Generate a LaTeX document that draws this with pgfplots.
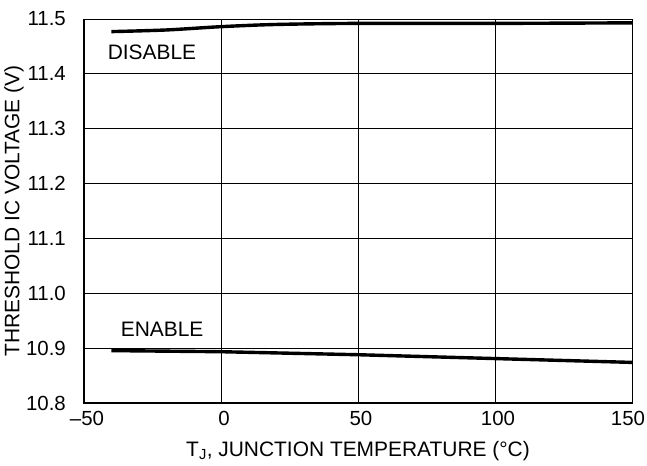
\documentclass[border=0pt]{standalone}
\usepackage{pgfplots}
\pgfplotsset{compat=1.18}
\usepackage{fontspec}
\setmainfont{Liberation Sans}
\usetikzlibrary{calc}
\begin{document}
\fontsize{21}{25}\selectfont
\begin{tikzpicture}
\begin{axis}[
  scale only axis,
  width=548bp, height=384bp,
  xmin=-50, xmax=150, ymin=10.8, ymax=11.5,
  xtick={-50,0,50,100,150},
  xticklabels={–50,0,50,100,\hspace*{-14bp}150},
  ytick={10.8,10.9,11.0,11.1,11.2,11.3,11.4,11.5},
  yticklabels={10.8,10.9,11.0,11.1,11.2,11.3,11.4,11.5},
  major tick length=0pt,
  grid=major,
  major grid style={black, line width=0.8bp},
  axis line style={black, line width=0.8bp},
  tick label style={font=\fontsize{20.5}{24}\selectfont, text=black},
  xticklabel style={anchor=center, yshift=-15bp, xshift=3bp},
  yticklabel style={anchor=east, xshift=-11bp},
  label style={font=\fontsize{21}{25}\selectfont},
  xlabel={T\textsubscript{J}, JUNCTION TEMPERATURE (°C)},
  ylabel={THRESHOLD IC VOLTAGE (V)},
  xlabel style={at={(rel axis cs:0.5,0)}, anchor=center, yshift=-48bp},
  ylabel style={at={(rel axis cs:0,0.5)}, anchor=center, yshift=70bp},
  clip=false,
  after end axis/.code={
    \draw[black, line width=2.4bp] (rel axis cs:0,1) -- (rel axis cs:0,0) -- (rel axis cs:1,0);
  },
]
\addplot[black, line width=3.4bp, smooth] coordinates {
  (-40,11.477) (-20,11.480) (0,11.486) (20,11.490) (50,11.492) (100,11.492) (150,11.493)
};
\addplot[black, line width=3.4bp] coordinates {
  (-40,10.8955) (0,10.8935) (50,10.888) (100,10.881) (150,10.874)
};
\node[font=\fontsize{21}{25}\selectfont] at (axis cs:-25.2,11.440) {DISABLE};
\node[font=\fontsize{21}{25}\selectfont] at (axis cs:-21.5,10.934) {ENABLE};
\end{axis}
\pgfresetboundingbox
\path ($(current axis.south west)+(-84bp,-63bp)$) rectangle ++(647bp,466bp);
\end{tikzpicture}
\end{document}
